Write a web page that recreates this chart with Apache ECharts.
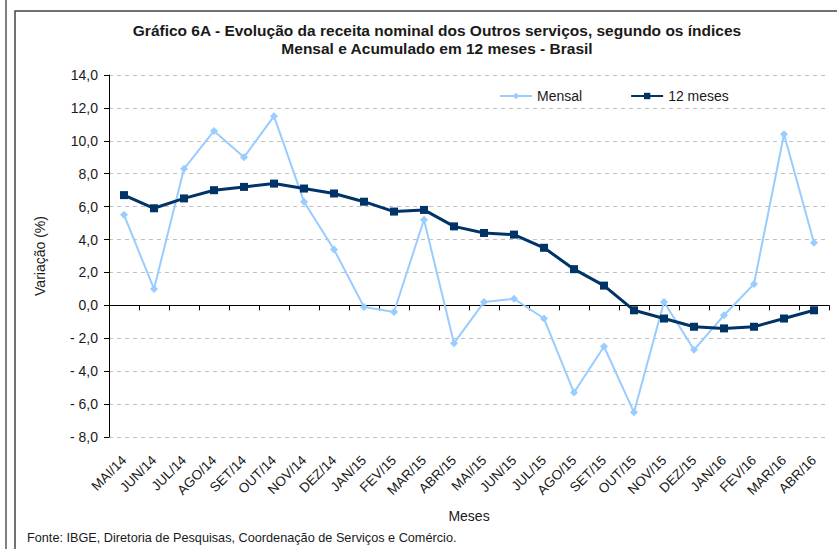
<!DOCTYPE html>
<html>
<head>
<meta charset="utf-8">
<script src="https://cdn.jsdelivr.net/npm/echarts@6/dist/echarts.min.js"></script>
<style>
  html, body { margin: 0; padding: 0; background: #fff; }
  #chart { width: 837px; height: 549px; }
</style>
</head>
<body>
<div id="chart"></div>
<script>
var months = ['MAI/14', 'JUN/14', 'JUL/14', 'AGO/14', 'SET/14', 'OUT/14', 'NOV/14', 'DEZ/14',
  'JAN/15', 'FEV/15', 'MAR/15', 'ABR/15', 'MAI/15', 'JUN/15', 'JUL/15', 'AGO/15', 'SET/15',
  'OUT/15', 'NOV/15', 'DEZ/15', 'JAN/16', 'FEV/16', 'MAR/16', 'ABR/16'];
var mensal = [5.5, 1.0, 8.3, 10.6, 9.0, 11.5, 6.3, 3.4, -0.1, -0.4, 5.2, -2.3, 0.2, 0.4, -0.8,
  -5.3, -2.5, -6.5, 0.2, -2.7, -0.6, 1.3, 10.4, 3.8];
var meses12 = [6.7, 5.9, 6.5, 7.0, 7.2, 7.4, 7.1, 6.8, 6.3, 5.7, 5.8, 4.8, 4.4, 4.3, 3.5,
  2.2, 1.2, -0.3, -0.8, -1.3, -1.4, -1.3, -0.8, -0.3];

var font = '"Liberation Sans", Arial, sans-serif';
var ink = '#1a1a1a';

function fmt(v) {
  var s = Math.abs(v).toFixed(1).replace('.', ',');
  return v < 0 ? '- ' + s : s;
}

var chart = echarts.init(document.getElementById('chart'), null, { renderer: 'svg' });
chart.setOption({
  animation: false,
  textStyle: { fontFamily: font },
  title: {
    text: 'Gráfico 6A - Evolução da receita nominal dos Outros serviços, segundo os índices\nMensal e Acumulado em 12 meses - Brasil',
    left: 432, top: 16, textAlign: 'center',
    textStyle: { fontSize: 15.5, fontWeight: 'bold', color: ink, fontFamily: font, lineHeight: 18 }
  },
  legend: {
    left: 494, top: 84, itemWidth: 32, itemHeight: 8, itemGap: 48,
    textStyle: { fontSize: 14, color: ink, fontFamily: font },
    data: ['Mensal', '12 meses']
  },
  grid: { left: 109, right: 8, top: 75, bottom: 112, outerBoundsMode: 'none' },
  xAxis: {
    type: 'category',
    data: months,
    name: 'Meses',
    nameLocation: 'middle',
    nameGap: 72,
    nameMoveOverlap: false,
    nameTextStyle: { fontSize: 14, color: ink, fontFamily: font },
    axisLine: { onZero: true, lineStyle: { color: '#000', width: 1 } },
    axisTick: { show: true, length: 5, inside: false, lineStyle: { color: '#000' } },
    axisLabel: { rotate: 45, interval: 0, fontSize: 13.5, color: ink, margin: 21, fontFamily: font },
    splitLine: { show: false }
  },
  yAxis: {
    type: 'value',
    min: -8, max: 14, interval: 2,
    name: 'Variação (%)',
    nameLocation: 'middle',
    nameGap: 62,
    nameTextStyle: { fontSize: 14, color: ink, fontFamily: font },
    axisLine: { show: true, lineStyle: { color: '#000', width: 1 } },
    axisTick: { show: true, length: 5, lineStyle: { color: '#000' } },
    axisLabel: { formatter: fmt, fontSize: 14, color: ink, margin: 11, fontFamily: font },
    splitLine: { show: true, lineStyle: { color: '#c0c0c0', type: [4, 4], width: 1 } }
  },
  series: [
    {
      name: 'Mensal', type: 'line', data: mensal,
      symbol: 'diamond', symbolSize: 8,
      lineStyle: { color: '#99ccff', width: 2 },
      itemStyle: { color: '#99ccff' },
      z: 2
    },
    {
      name: '12 meses', type: 'line', data: meses12,
      symbol: 'rect', symbolSize: 8,
      lineStyle: { color: '#003366', width: 3 },
      itemStyle: { color: '#003366' },
      z: 3
    }
  ],
  graphic: [
    { type: 'line', shape: { x1: 6, y1: 0, x2: 6, y2: 549 }, style: { stroke: '#555', lineWidth: 1.5 } },
    { type: 'rect', shape: { x: 15, y: 11, width: 900, height: 600 }, style: { fill: 'none', stroke: '#444', lineWidth: 1.5 } },
    {
      type: 'text', left: 27, top: 531,
      style: { text: 'Fonte: IBGE, Diretoria de Pesquisas, Coordenação de Serviços e Comércio.', fontSize: 12.7, fill: ink, fontFamily: font }
    }
  ]
});
</script>
</body>
</html>
